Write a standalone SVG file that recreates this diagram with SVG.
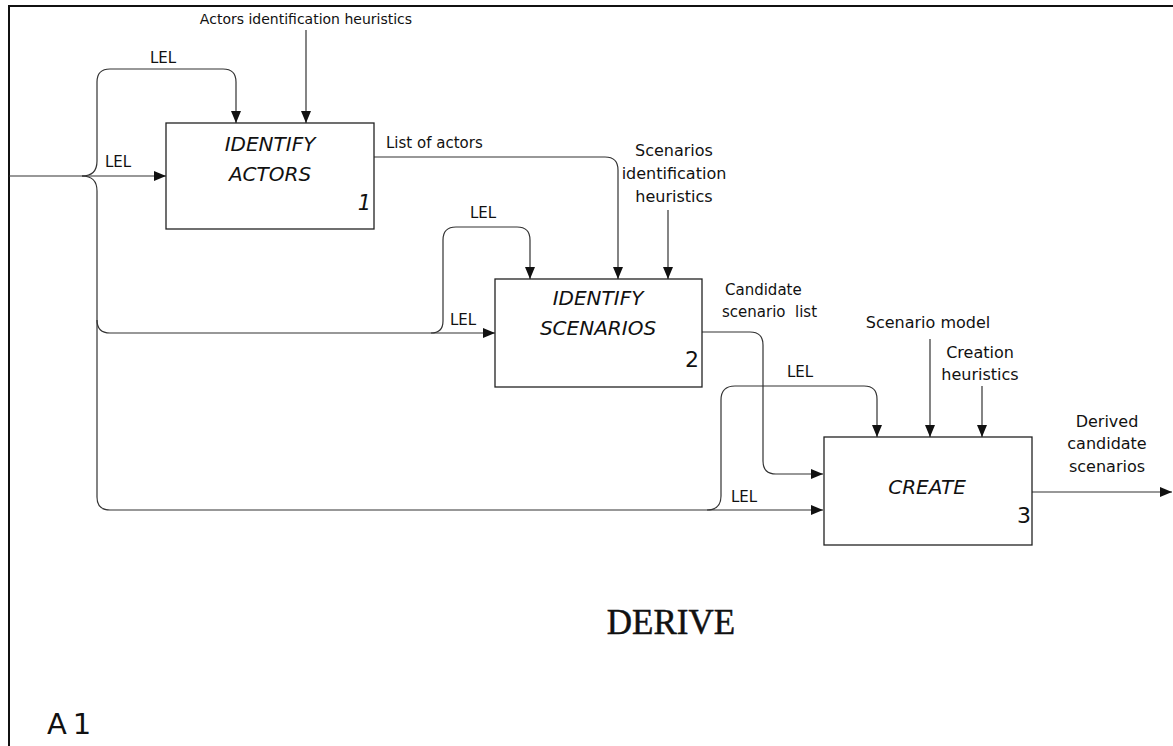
<svg xmlns="http://www.w3.org/2000/svg" width="1173" height="746" viewBox="0 0 1173 746">
<style>
.frame{fill:none;stroke:#111;stroke-width:2}
.box{fill:#fff;stroke:#222;stroke-width:1.3}
.c{fill:none;stroke:#333;stroke-width:1.2}
.a{marker-end:url(#arr)}
.t{font-family:"DejaVu Sans",sans-serif;fill:#111}
.lab{font-size:15px}
.nm{font-size:20px;font-style:italic;text-anchor:middle}
.num{font-size:22px;text-anchor:end}
.mid{text-anchor:middle}
</style>
<defs>
<marker id="arr" markerUnits="userSpaceOnUse" markerWidth="13" markerHeight="11" refX="12" refY="5" orient="auto">
<path d="M0,0 L12,5 L0,10 z" fill="#111"/>
</marker>
</defs>
<rect width="1173" height="746" fill="#fff"/>
<g id="frame">
<path class="frame" d="M8,6 H1173 M9,6 V746"/>
</g>
<g id="connectors">
<path class="c a" d="M9,176 H166"/>
<path class="c a" d="M82,176 Q97,176 97,161 V82 Q97,69 110,69 H223 Q236,69 236,82 V123"/>
<path class="c a" d="M82,176 Q97,176 97,191 V497 Q97,510 110,510 H823"/>
<path class="c a" d="M97,320 Q97,333 110,333 H495"/>
<path class="c a" d="M431,333 Q443,333 443,321 V240 Q443,227 456,227 H517 Q530,227 530,240 V279"/>
<path class="c a" d="M306,30 V123"/>
<path class="c a" d="M374,157 H605 Q618,157 618,170 V279"/>
<path class="c a" d="M668,210 V279"/>
<path class="c a" d="M702,332 H750 Q763,332 763,345 V461 Q763,474 776,474 H823"/>
<path class="c a" d="M707,510 Q721,510 721,496 V400 Q721,386 735,386 H864 Q877,386 877,399 V437"/>
<path class="c a" d="M930,339 V437"/>
<path class="c a" d="M982,386 V437"/>
<path class="c a" d="M1032,492 H1172"/>
<text class="t lab mid" x="306" y="24" style="font-size:14px">Actors identification heuristics</text>
<text class="t lab mid" x="163" y="63">LEL</text>
<text class="t lab mid" x="118" y="167">LEL</text>
<text class="t lab" x="386" y="148">List of actors</text>
<text class="t mid" x="674" y="156" font-size="16">Scenarios</text>
<text class="t mid" x="674" y="179" font-size="16">identification</text>
<text class="t mid" x="674" y="202" font-size="16">heuristics</text>
<text class="t lab mid" x="483" y="218">LEL</text>
<text class="t lab mid" x="463" y="325">LEL</text>
<text class="t lab" x="725" y="295">Candidate</text>
<text class="t lab" x="722" y="317" xml:space="preserve">scenario  list</text>
<text class="t mid" x="928" y="328" font-size="16">Scenario model</text>
<text class="t mid" x="980" y="358" font-size="16">Creation</text>
<text class="t mid" x="980" y="380" font-size="16">heuristics</text>
<text class="t lab mid" x="800" y="377">LEL</text>
<text class="t lab mid" x="744" y="502">LEL</text>
<text class="t mid" x="1107" y="427" font-size="16">Derived</text>
<text class="t mid" x="1107" y="449" font-size="16">candidate</text>
<text class="t mid" x="1107" y="472" font-size="16">scenarios</text>
</g>
<g id="node1">
<rect class="box" x="166" y="123" width="208" height="106"/>
<text class="t nm" x="270" y="151">IDENTIFY</text>
<text class="t nm" x="270" y="181">ACTORS</text>
<text class="t" x="371" y="210" font-size="21" font-style="italic" text-anchor="end">1</text>
</g>
<g id="node2">
<rect class="box" x="495" y="279" width="207" height="108"/>
<text class="t nm" x="598" y="305">IDENTIFY</text>
<text class="t nm" x="598" y="335">SCENARIOS</text>
<text class="t num" x="699" y="367">2</text>
</g>
<g id="node3">
<rect class="box" x="824" y="437" width="208" height="108"/>
<text class="t nm" x="927" y="494">CREATE</text>
<text class="t num" x="1031" y="523">3</text>
</g>
<g id="title">
<text x="671" y="634" font-family="Liberation Serif, serif" font-size="35" text-anchor="middle" fill="#111" stroke="#111" stroke-width="0.5">DERIVE</text>
<text x="47" y="734" font-family="DejaVu Sans, sans-serif" font-size="29" fill="#111" letter-spacing="6">A1</text>
</g>
</svg>
